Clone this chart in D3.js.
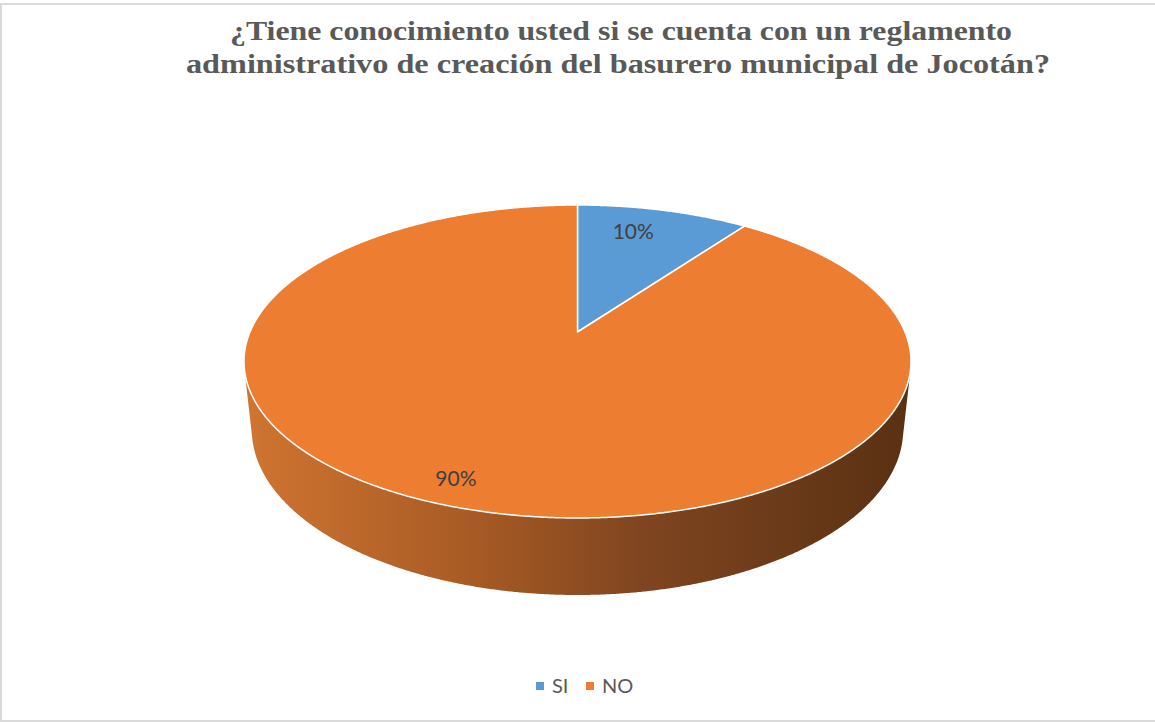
<!DOCTYPE html>
<html>
<head>
<meta charset="utf-8">
<script src="https://cdn.jsdelivr.net/npm/d3@7"></script>
<style>
  html, body { margin: 0; padding: 0; background: #ffffff; }
  svg { display: block; }
</style>
</head>
<body>
<svg id="chart" width="1155" height="723"></svg>
<script>
// ---- data ----
const titleLines = [
  "¿Tiene conocimiento usted si se cuenta con un reglamento",
  "administrativo de creación del basurero municipal de Jocotán?"
];
const categories = ["SI", "NO"];
const values = [10, 90];
const labels = ["10%", "90%"];
const colors = ["#5B9BD5", "#ED7D31"];

// ---- layout / style ----
const W = 1155, H = 723;
const svg = d3.select("#chart");

// border
svg.append("rect").attr("x", 1).attr("y", 4).attr("width", W + 5).attr("height", 717)
  .attr("fill", "#fff").attr("stroke", "#d9d9d9").attr("stroke-width", 2);

// title
const titleFit = [782, 864];
const titleY = [40, 73];
const titleX = [621, 618];
titleLines.forEach((t, i) => {
  svg.append("text")
    .attr("x", titleX[i]).attr("y", titleY[i])
    .attr("text-anchor", "middle")
    .attr("font-family", "'Liberation Serif', 'Times New Roman', serif")
    .attr("font-weight", "bold")
    .attr("font-size", 28)
    .attr("fill", "#595959")
    .attr("textLength", titleFit[i])
    .attr("lengthAdjust", "spacingAndGlyphs")
    .text(t);
});

// ---- 3D perspective projection of a disk ----
const cx = 577.5, cy = 332;     // projected disk centre
const F = 1541.9;               // focal length (px)
const dist = 4.708;             // camera distance (disk radius = 1)
const sinP = 0.4608, cosP = Math.sqrt(1 - sinP * sinP);
const thick = 0.236;            // pie thickness

function proj(theta, r, Y) {
  const X = r * Math.sin(theta);
  const Z = -r * Math.cos(theta);
  const yc = Y * cosP - Z * sinP;
  const zc = dist - Y * sinP - Z * cosP;
  return [cx + F * X / zc, cy - F * yc / zc];
}

const pie = d3.pie().sort(null).value(d => d).startAngle(0).endAngle(2 * Math.PI);
const arcs = pie(values);

const step = Math.PI / 720;
function arcPoints(a0, a1, r, Y) {
  const pts = [];
  const n = Math.max(2, Math.ceil((a1 - a0) / step));
  for (let i = 0; i <= n; i++) pts.push(proj(a0 + (a1 - a0) * i / n, r, Y));
  return pts;
}
const line = d3.line().curve(d3.curveLinear);

// side gradient
const defs = svg.append("defs");
const grad = defs.append("linearGradient").attr("id", "sideGrad")
  .attr("gradientUnits", "userSpaceOnUse")
  .attr("x1", proj(-Math.PI / 2, 1, 0)[0]).attr("x2", proj(Math.PI / 2, 1, 0)[0])
  .attr("y1", 0).attr("y2", 0);
[[0, "#cf7431"], [0.35, "#a65a24"], [0.6, "#7f4520"], [1, "#5a3113"]]
  .forEach(([o, c]) => grad.append("stop").attr("offset", o).attr("stop-color", c));

// front-facing range of outer wall
const vLim = -1 / (dist * cosP);
const f1 = Math.acos(vLim), f2 = 2 * Math.PI - f1;

const g = svg.append("g");

// outer walls
arcs.forEach((a, i) => {
  const s = Math.max(a.startAngle, f1), e = Math.min(a.endAngle, f2);
  if (e <= s) return;
  const top = arcPoints(s, e, 1, 0);
  const bot = arcPoints(s, e, 1, -thick).reverse();
  g.append("path")
    .attr("d", line(top.concat(bot)) + "Z")
    .attr("fill", i === 1 ? "url(#sideGrad)" : d3.color(colors[i]).darker(1))
    .attr("stroke", "none");
});

// top faces
arcs.forEach((a, i) => {
  const pts = [proj(0, 0, 0)].concat(arcPoints(a.startAngle, a.endAngle, 1, 0));
  g.append("path")
    .attr("d", line(pts) + "Z")
    .attr("fill", colors[i])
    .attr("stroke", "#ffffff")
    .attr("stroke-width", 1.5)
    .attr("stroke-linejoin", "round");
});

// data labels
const labelRadius = [0.74, 0.9];
const labelAngleShift = [-0.05, 0.04];
arcs.forEach((a, i) => {
  const mid = (a.startAngle + a.endAngle) / 2 + labelAngleShift[i];
  const p = proj(mid, labelRadius[i], 0);
  g.append("text")
    .attr("x", p[0]).attr("y", p[1] - 6)
    .attr("text-anchor", "middle")
    .attr("dominant-baseline", "central")
    .attr("font-family", "Lato, 'Open Sans', sans-serif")
    .attr("font-size", 21)
    .attr("fill", "#404040")
    .text(labels[i]);
});

// legend
const legend = svg.append("g").attr("transform", "translate(536,693)");
const legendX = [0, 50];
categories.forEach((c, i) => {
  const item = legend.append("g").attr("transform", `translate(${legendX[i]},0)`);
  item.append("rect").attr("x", 0).attr("y", -11).attr("width", 8).attr("height", 8)
    .attr("fill", colors[i]);
  item.append("text").attr("x", 16).attr("y", 0)
    .attr("font-family", "Lato, 'Open Sans', sans-serif")
    .attr("font-size", 20)
    .attr("fill", "#595959")
    .text(c);
});
</script>
</body>
</html>
